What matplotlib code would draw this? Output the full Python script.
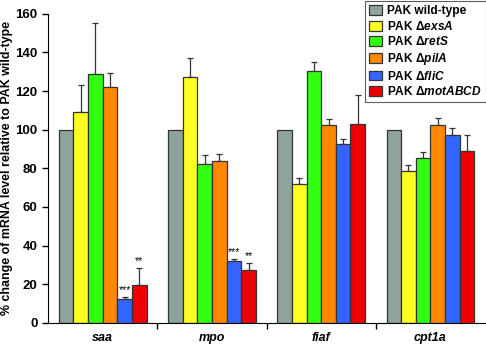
import matplotlib.pyplot as plt
import numpy as np

plt.rcParams['font.family'] = ['Liberation Sans', 'DejaVu Sans']

# data
genes = ['saa', 'mpo', 'fiaf', 'cpt1a']
strains = ['PAK wild-type', r'PAK $\Delta$$\it{exsA}$', r'PAK $\Delta$$\it{retS}$',
           r'PAK $\Delta$$\it{pilA}$', r'PAK $\Delta$$\it{fliC}$', r'PAK $\Delta$$\it{motABCD}$']
colors = ['#8FA39E', '#FFFF22', '#33FF11', '#FF8800', '#3366FF', '#EE0000']

wt      = [100, 100, 100, 100]
exsA    = [109, 127.5, 72, 78.5]
retS    = [129, 82.5, 130.5, 85.5]
pilA    = [122, 84, 102.5, 102.5]
fliC    = [12.5, 32, 92.5, 97.2]
motABCD = [19.5, 27.5, 103, 89]

wt_err      = [0, 0, 0, 0]
exsA_err    = [14, 9.5, 3, 3]
retS_err    = [26, 4.5, 4.5, 3]
pilA_err    = [7.5, 3.5, 2.8, 3.5]
fliC_err    = [1, 1.2, 2.8, 3.8]
motABCD_err = [9, 3.5, 15, 8.3]

stars = {(0, 4): '***', (0, 5): '**', (1, 4): '***', (1, 5): '**'}

vals = [wt, exsA, retS, pilA, fliC, motABCD]
errs = [wt_err, exsA_err, retS_err, pilA_err, fliC_err, motABCD_err]

plt.rcParams['mathtext.fontset'] = 'custom'
plt.rcParams['mathtext.it'] = 'Liberation Sans:italic:bold'
plt.rcParams['mathtext.rm'] = 'Liberation Sans:bold'

fig = plt.figure(figsize=(4.86, 3.46), dpi=100)
ax = fig.add_axes([0.099, 0.067, 0.899, 0.893])

x = np.arange(len(genes))
w = 0.134
for i in range(6):
    pos = x - 2.5 * w + i * w
    ax.bar(pos, vals[i], w, color=colors[i], edgecolor='#333333', linewidth=0.9,
           label=strains[i], zorder=2)
    e = np.array(errs[i])
    if e.sum() > 0:
        ax.errorbar(pos, vals[i], yerr=[np.zeros_like(e), e], fmt='none', ecolor='#333333',
                    elinewidth=0.9, capsize=2.5, capthick=0.9, zorder=1)

for (g, s), txt in stars.items():
    pos = x[g] - 2.5 * w + s * w
    ax.text(pos, vals[s][g] + errs[s][g] + 1, txt, ha='center', va='bottom', fontsize=7.5)

ax.set_xlim(-0.5, 3.5)
ax.set_ylim(0, 160)
ax.set_yticks(range(0, 161, 20))
ax.set_xticks([0.5, 1.5, 2.5])
ax.set_xticklabels([])
for i, g in enumerate(genes):
    ax.text(i, -0.048, g, ha='center', va='center', fontsize=9, fontweight='bold',
            style='italic', transform=ax.get_xaxis_transform())
ax.tick_params(axis='y', labelsize=9.5, width=1, length=4)
ax.tick_params(axis='x', width=1, length=4)
for t in ax.get_yticklabels():
    t.set_fontweight('bold')
ax.spines['top'].set_visible(False)
ax.spines['right'].set_visible(False)
ax.set_ylabel('% change of mRNA level relative to PAK wild-type', fontsize=8.9,
              fontweight='bold', labelpad=1.5)

leg = ax.legend(loc='upper right', bbox_to_anchor=(1.002, 1.042), borderaxespad=0,
                prop={'weight': 'bold', 'size': 8.6}, frameon=True, fancybox=False,
                edgecolor='#333333', handlelength=1.1, handleheight=0.9,
                handletextpad=0.4, labelspacing=0.22, borderpad=0.35)
leg.get_frame().set_linewidth(0.8)

fig.savefig('out.png', dpi=100)
